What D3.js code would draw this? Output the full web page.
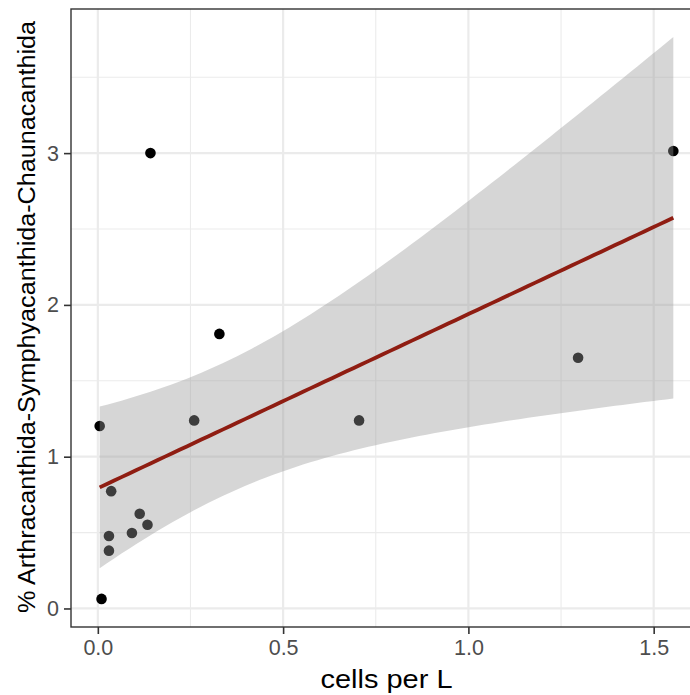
<!DOCTYPE html>
<html>
<head>
<meta charset="utf-8">
<script src="https://cdn.jsdelivr.net/npm/d3@7"></script>
<style>
  html, body { margin: 0; padding: 0; background: #fff; overflow: hidden; }
  svg { display: block; font-family: "Liberation Sans", Arial, sans-serif; }
</style>
</head>
<body>
<svg id="chart" width="690" height="695"></svg>
<script>
// Observations: abundance (cells per L) vs. percentage of the three acantharian orders
const cellsPerL = [0.142, 1.553, 0.328, 0.260, 0.705, 1.296, 0.005, 0.036, 0.113, 0.134, 0.092, 0.030, 0.030, 0.010];
const percentASC = [3.000, 3.014, 1.809, 1.239, 1.239, 1.652, 1.202, 0.773, 0.624, 0.552, 0.497, 0.477, 0.381, 0.063];

const xTicks = [0, 0.5, 1.0, 1.5];
const xTickLabels = ["0.0", "0.5", "1.0", "1.5"];
const xMinor = [0.25, 0.75, 1.25];
const yTicks = [0, 1, 2, 3];
const yTickLabels = ["0", "1", "2", "3"];
const yMinor = [0.5, 1.5, 2.5, 3.5];

const xTitle = "cells per L";
const yTitle = "% Arthracanthida-Symphyacanthida-Chaunacanthida";

// Ordinary least squares fit with a 95% confidence band (as geom_smooth(method = "lm"))
const n = cellsPerL.length;
const mx = d3.mean(cellsPerL), my = d3.mean(percentASC);
let sxx = 0, sxy = 0;
for (let i = 0; i < n; i++) {
  sxx += (cellsPerL[i] - mx) ** 2;
  sxy += (cellsPerL[i] - mx) * (percentASC[i] - my);
}
const slope = sxy / sxx;
const intercept = my - slope * mx;
let sse = 0;
for (let i = 0; i < n; i++) sse += (percentASC[i] - (intercept + slope * cellsPerL[i])) ** 2;
const sigma = Math.sqrt(sse / (n - 2));
const tCrit = 2.178813; // qt(0.975, df = 12)

const [xLo, xHi] = d3.extent(cellsPerL);
const fit = d3.range(80).map(k => {
  const x = xLo + (xHi - xLo) * k / 79;
  const yhat = intercept + slope * x;
  const se = sigma * Math.sqrt(1 / n + (x - mx) ** 2 / sxx);
  return { x, y: yhat, lo: yhat - tCrit * se, hi: yhat + tCrit * se };
});

// Panel and scales (5% padding on each side of the data range)
const panel = { left: 71, right: 702, top: 9, bottom: 627 };
const xr = xHi - xLo;
const x = d3.scaleLinear()
  .domain([xLo - 0.05 * xr, xHi + 0.05 * xr])
  .range([panel.left, panel.right]);
const yLoAll = Math.min(d3.min(percentASC), d3.min(fit, d => d.lo));
const yHiAll = Math.max(d3.max(percentASC), d3.max(fit, d => d.hi));
const yr = yHiAll - yLoAll;
const y = d3.scaleLinear()
  .domain([yLoAll - 0.05 * yr, yHiAll + 0.05 * yr])
  .range([panel.bottom, panel.top]);

const svg = d3.select("#chart");

// Grid lines
const grid = svg.append("g");
grid.selectAll(".xminor").data(xMinor).join("line")
  .attr("x1", d => x(d)).attr("x2", d => x(d))
  .attr("y1", panel.top).attr("y2", panel.bottom)
  .attr("stroke", "#ebebeb").attr("stroke-width", 1.1);
grid.selectAll(".yminor").data(yMinor).join("line")
  .attr("y1", d => y(d)).attr("y2", d => y(d))
  .attr("x1", panel.left).attr("x2", panel.right)
  .attr("stroke", "#ebebeb").attr("stroke-width", 1.1);
grid.selectAll(".xmajor").data(xTicks).join("line")
  .attr("x1", d => x(d)).attr("x2", d => x(d))
  .attr("y1", panel.top).attr("y2", panel.bottom)
  .attr("stroke", "#ebebeb").attr("stroke-width", 2.2);
grid.selectAll(".ymajor").data(yTicks).join("line")
  .attr("y1", d => y(d)).attr("y2", d => y(d))
  .attr("x1", panel.left).attr("x2", panel.right)
  .attr("stroke", "#ebebeb").attr("stroke-width", 2.2);

// Points (drawn beneath the confidence ribbon)
svg.append("g").selectAll("circle")
  .data(cellsPerL.map((v, i) => [v, percentASC[i]]))
  .join("circle")
  .attr("cx", d => x(d[0])).attr("cy", d => y(d[1]))
  .attr("r", 5.3).attr("fill", "#000");

// Confidence ribbon
svg.append("path")
  .datum(fit)
  .attr("d", d3.area().x(d => x(d.x)).y0(d => y(d.lo)).y1(d => y(d.hi)))
  .attr("fill", "#999999").attr("fill-opacity", 0.4);

// Fitted line
svg.append("path")
  .datum(fit)
  .attr("d", d3.line().x(d => x(d.x)).y(d => y(d.y)))
  .attr("fill", "none").attr("stroke", "#8f1d12").attr("stroke-width", 3.8);

// Panel border
svg.append("rect")
  .attr("x", panel.left).attr("y", panel.top)
  .attr("width", panel.right - panel.left).attr("height", panel.bottom - panel.top)
  .attr("fill", "none").attr("stroke", "#333333").attr("stroke-width", 1.4);

// Axes
const xAxis = svg.append("g")
  .attr("transform", `translate(0,${panel.bottom})`)
  .call(d3.axisBottom(x).tickValues(xTicks).tickFormat((d, i) => xTickLabels[i])
    .tickSize(7).tickSizeOuter(0).tickPadding(6));
const yAxis = svg.append("g")
  .attr("transform", `translate(${panel.left},0)`)
  .call(d3.axisLeft(y).tickValues(yTicks).tickFormat((d, i) => yTickLabels[i])
    .tickSize(7).tickSizeOuter(0).tickPadding(5));
[xAxis, yAxis].forEach(g => {
  g.select(".domain").remove();
  g.selectAll(".tick line").attr("stroke", "#333333").attr("stroke-width", 1.6);
  g.selectAll(".tick text").attr("fill", "#4d4d4d")
    .style("font-size", "21.5px").style("font-family", "Liberation Sans, Arial, sans-serif");
});

// Axis titles
svg.append("text")
  .attr("x", (panel.left + panel.right) / 2).attr("y", 688)
  .attr("text-anchor", "middle")
  .attr("textLength", 132).attr("lengthAdjust", "spacingAndGlyphs")
  .style("font-size", "25px").attr("fill", "#000")
  .text(xTitle);
svg.append("text")
  .attr("transform", `translate(34.5,${(panel.top + panel.bottom) / 2 - 1}) rotate(-90)`)
  .attr("text-anchor", "middle")
  .attr("textLength", 592).attr("lengthAdjust", "spacingAndGlyphs")
  .style("font-size", "23.5px").attr("fill", "#000")
  .text(yTitle);
</script>
</body>
</html>
